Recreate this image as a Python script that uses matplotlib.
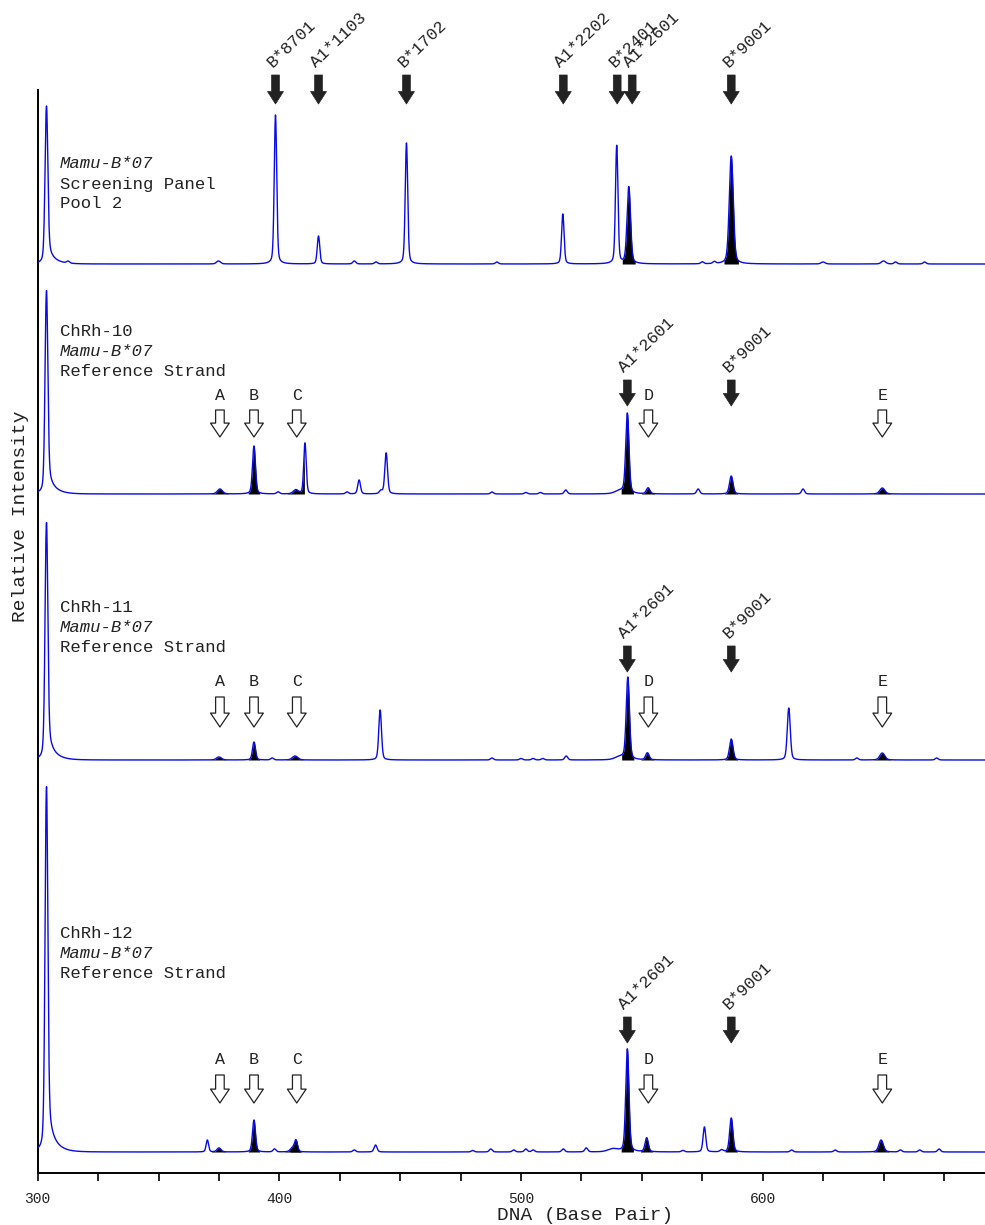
import numpy as np
import matplotlib.pyplot as plt
from matplotlib.patches import FancyArrowPatch

plt.rcParams['font.family'] = ['Liberation Mono', 'DejaVu Sans Mono']

# ---------- electropherogram data ----------
bp = np.arange(300, 692.05, 0.05)

offsets    = [909, 679, 413, 21]          # vertical stacking of the four traces
primer_pos = 303.6
primer_amp = [157, 202, 236, 363]

# Screening panel pool 2
pool_pos  = [312.6, 374.8, 398.4, 416.2, 431.0, 440.0, 452.6, 490.0, 517.3, 539.6, 544.6, 575.0, 580.0, 587.0, 625.0, 650.0, 655.0, 667.0]
pool_amp  = [2, 3, 149, 28, 3, 2, 121, 2, 50, 118, 77, 2, 2, 108, 2, 3, 2, 2]
pool_wid  = [0.6, 0.8, 0.5, 0.5, 0.6, 0.6, 0.5, 0.6, 0.5, 0.5, 0.7, 0.6, 0.6, 0.8, 0.8, 0.9, 0.6, 0.6]
pool_fill = [0, 0, 0, 0, 0, 0, 0, 0, 0, 0, 1, 0, 0, 1, 0, 0, 0, 0]

# ChRh-10
rh10_pos  = [375.4, 389.5, 399.5, 406.8, 410.6, 428.0, 433.0, 442.0, 444.2, 488.0, 502.0, 508.0, 518.5, 541.0, 544.0, 552.6, 573.3, 587.0, 616.7, 649.5]
rh10_amp  = [5, 48, 2, 4, 51, 2, 14, 3, 41, 2, 1.5, 1.5, 4, 3, 80, 6, 5, 18, 5, 6]
rh10_wid  = [1.0, 0.6, 0.6, 1.0, 0.5, 0.6, 0.55, 0.6, 0.55, 0.6, 0.6, 0.6, 0.6, 2.0, 0.65, 0.7, 0.6, 0.7, 0.6, 1.0]
rh10_fill = [1, 1, 0, 1, 0, 0, 0, 0, 0, 0, 0, 0, 0, 0, 1, 1, 0, 1, 0, 1]

# ChRh-11
rh11_pos  = [375.0, 389.5, 397.0, 406.5, 441.7, 488.0, 500.0, 505.0, 509.0, 518.7, 541.0, 544.2, 552.3, 587.0, 610.8, 639.0, 649.5, 672.0]
rh11_amp  = [3, 18, 2, 4, 50, 2, 1.5, 1.5, 1.5, 4, 3, 82, 7, 21, 52, 2, 7, 2]
rh11_wid  = [1.0, 0.6, 0.6, 1.1, 0.55, 0.6, 0.6, 0.6, 0.6, 0.6, 2.0, 0.65, 0.7, 0.7, 0.6, 0.6, 1.0, 0.6]
rh11_fill = [1, 1, 0, 1, 0, 0, 0, 0, 0, 0, 0, 1, 1, 1, 0, 0, 1, 0]

# ChRh-12
rh12_pos  = [370.2, 375.0, 389.5, 398.0, 405.5, 406.9, 431.0, 439.8, 480.0, 487.5, 497.0, 502.0, 505.0, 517.5, 527.0, 538.0,
             544.0, 552.0, 567.0, 575.9, 583.0, 587.0, 612.0, 630.0, 649.0, 657.0, 665.0, 673.0]
rh12_amp  = [12, 4, 32, 3, 4, 11, 2, 7, 1.5, 3, 2, 3, 2, 3, 4, 3, 103, 14, 1.5, 25, 2, 34, 2, 2, 12, 2, 2, 3]
rh12_wid  = [0.5, 0.8, 0.6, 0.6, 0.9, 0.6, 0.6, 0.6, 0.6, 0.6, 0.6, 0.6, 0.6, 0.6, 0.6, 2.0,
             0.65, 0.65, 0.6, 0.55, 0.6, 0.65, 0.6, 0.6, 0.9, 0.6, 0.6, 0.6]
rh12_fill = [0, 1, 1, 0, 1, 1, 0, 0, 0, 0, 0, 0, 0, 0, 0, 0, 1, 1, 0, 0, 0, 1, 0, 0, 1, 0, 0, 0]

trace_peaks = [
    (pool_pos, pool_amp, pool_wid, pool_fill),
    (rh10_pos, rh10_amp, rh10_wid, rh10_fill),
    (rh11_pos, rh11_amp, rh11_wid, rh11_fill),
    (rh12_pos, rh12_amp, rh12_wid, rh12_fill),
]

# sample names drawn next to each trace
sample_lines = [
    ["Mamu-B*07", "Screening Panel", "Pool 2"],
    ["ChRh-10", "Mamu-B*07", "Reference Strand"],
    ["ChRh-11", "Mamu-B*07", "Reference Strand"],
    ["ChRh-12", "Mamu-B*07", "Reference Strand"],
]
sample_text_y = [1009, 841, 566, 239]

# allele markers (solid arrows) and unknown peaks (open arrows)
pool_alleles = ["B*8701", "A1*1103", "B*1702", "A1*2202", "B*2401", "A1*2601", "B*9001"]
pool_allele_bp = [398.4, 416.2, 452.6, 517.5, 539.8, 546.0, 587.0]
ref_alleles = ["A1*2601", "B*9001"]
ref_allele_bp = [544.0, 587.0]
unknown_labels = ["A", "B", "C", "D", "E"]
unknown_bp = [375.4, 389.5, 407.2, 552.7, 649.5]

solid_arrow_y = [(1098, 1069), (793, 767), (527, 501), (156, 130)]
open_arrow_y = [None, (763, 736), (476, 446), (98, 70)]

PX_PER_BP = 2.418


def peak(x, pos, amp, w):
    d = (x - pos) / w
    return amp * (0.75 * np.exp(-0.5 * d ** 2) + 0.25 / (1 + (d / 1.4) ** 2))


def primer(x, amp):
    y = peak(x, primer_pos, amp, 0.55)
    t = np.clip(x - primer_pos, 0, None)
    y += amp * 0.09 * np.exp(-t / 3.0) * (1 - np.exp(-t / 0.4))
    return y


fig = plt.figure(figsize=(9.85, 12.25), dpi=100)
ax = fig.add_axes([37.7 / 985, 52 / 1225, (985 - 37.7) / 985, 1083 / 1225])

for i, (pos, amp, wid, fill) in enumerate(trace_peaks):
    base = offsets[i]
    y = primer(bp, primer_amp[i])
    for p, a, w in zip(pos, amp, wid):
        y = y + peak(bp, p, a, w)
    y = y + base
    for p, a, w, f in zip(pos, amp, wid, fill):
        if f:
            m = np.abs(bp - p) < 3 * w + 0.6
            ax.fill_between(bp[m], base, y[m], color="black", lw=0, zorder=2)
    ax.plot(bp, y, color="#0a0ae6", lw=1.0, zorder=3)

    tx = 300 + (60 - 37.7) / PX_PER_BP
    for k, line in enumerate(sample_lines[i]):
        ax.text(tx, sample_text_y[i] - 20 * k, line, fontsize=12.4, va="center", ha="left",
                style="italic" if line.startswith("Mamu") else "normal", color="#222222")


def solid_arrow(x, top, tip):
    ax.add_patch(FancyArrowPatch((x, top), (x, tip), arrowstyle="simple,head_length=9,head_width=11.5,tail_width=5.6",
                                 mutation_scale=1, shrinkA=0, shrinkB=0, fc="#222222", ec="#222222", lw=0.5,
                                 clip_on=False, zorder=4))


def open_arrow(x, top, tip):
    ax.add_patch(FancyArrowPatch((x, top), (x, tip), arrowstyle="simple,head_length=10,head_width=13.5,tail_width=6.2",
                                 mutation_scale=1, shrinkA=0, shrinkB=0, fc="white", ec="#222222", lw=0.9,
                                 clip_on=False, zorder=4))


def allele_label(x, top, text):
    ax.text(x - 3 / PX_PER_BP, top + 7, text, rotation=44, rotation_mode="anchor", ha="left", va="baseline",
            fontsize=12.2, color="#222222", clip_on=False)


top, tip = solid_arrow_y[0]
for name, x in zip(pool_alleles, pool_allele_bp):
    solid_arrow(x, top, tip)
    allele_label(x, top, name)

for i in range(1, 4):
    top, tip = solid_arrow_y[i]
    for name, x in zip(ref_alleles, ref_allele_bp):
        solid_arrow(x, top, tip)
        allele_label(x, top, name)
    otop, otip = open_arrow_y[i]
    for name, x in zip(unknown_labels, unknown_bp):
        open_arrow(x, otop, otip)
        ax.text(x, otop + 15, name, ha="center", va="center", fontsize=12, color="#222222")

ax.set_xlim(300, 692)
ax.set_ylim(0, 1083)
ax.spines["top"].set_visible(False)
ax.spines["right"].set_visible(False)
ax.spines["left"].set_linewidth(1.4)
ax.spines["bottom"].set_linewidth(1.4)
ax.set_yticks([])
ax.set_xticks([300, 400, 500, 600])
ax.set_xticks(np.arange(300, 700, 25), minor=True)
ax.tick_params(axis="x", which="both", direction="out", length=6, width=1.2, labelsize=10.5, pad=8,
               labelcolor="#222222")
ax.set_xlabel("DNA (Base Pair)", fontsize=14, color="#222222")
ax.xaxis.set_label_coords(0.578, -0.031)
ax.set_ylabel("Relative Intensity", fontsize=14, color="#222222")
ax.yaxis.set_label_coords(-0.009, 0.606)

fig.savefig("out.png", dpi=100)
